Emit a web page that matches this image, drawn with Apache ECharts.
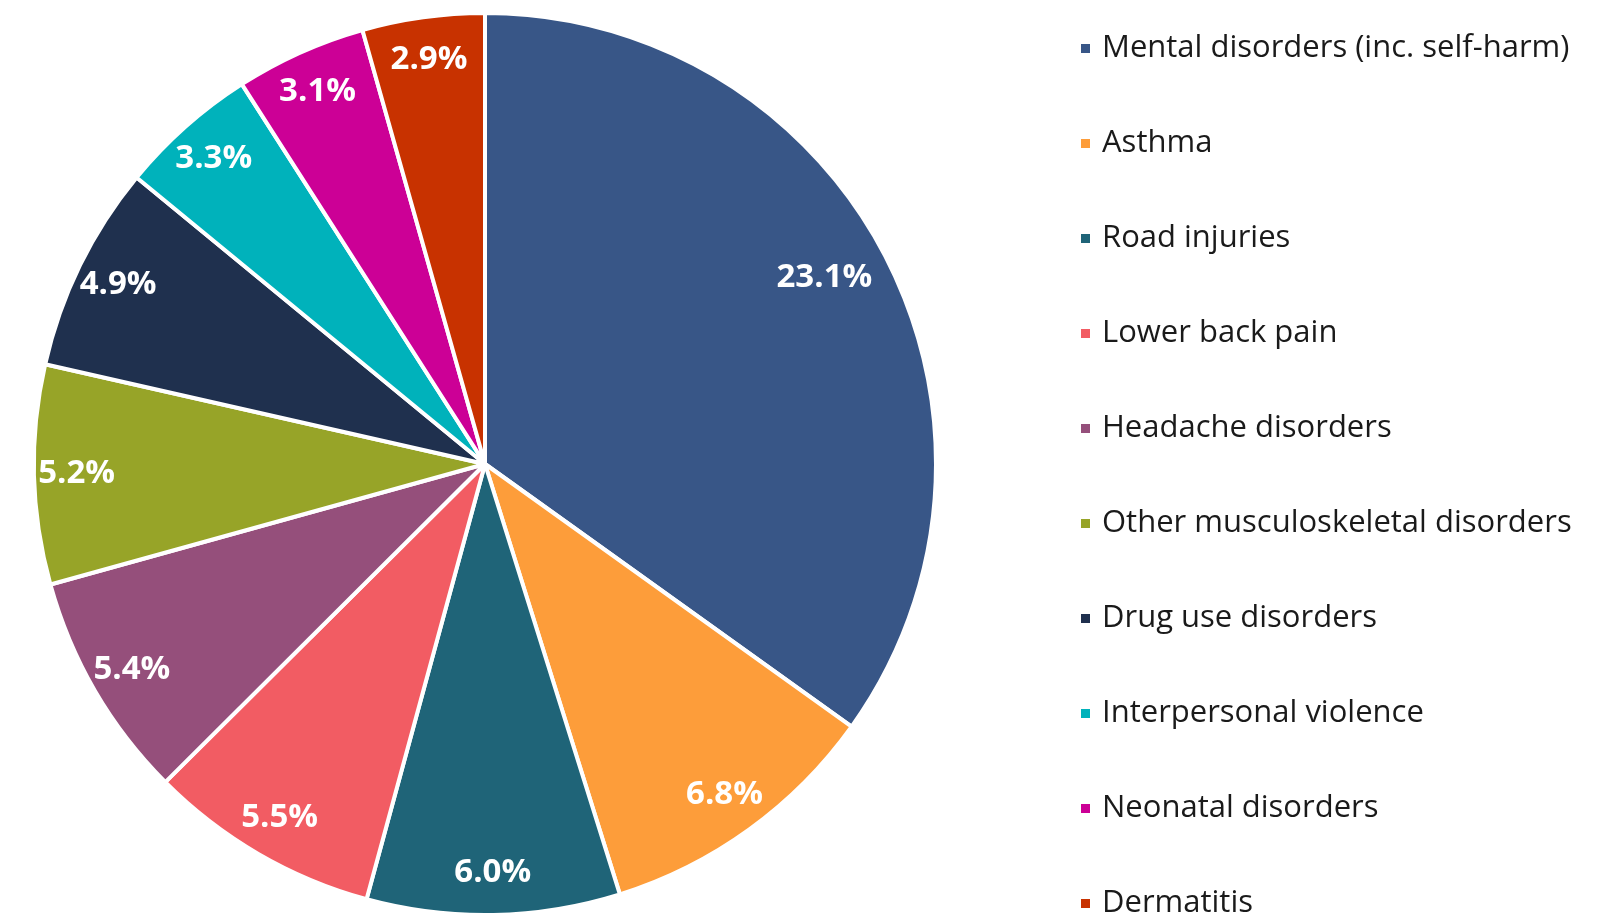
<!DOCTYPE html>
<html><head><meta charset="utf-8">
<script src="https://cdn.jsdelivr.net/npm/echarts@6/dist/echarts.min.js"></script>
<style>html,body{margin:0;padding:0;background:#fff}#c{width:1606px;height:917px}</style>
</head><body><div id="c"></div>
<script>
var categories = ['Mental disorders (inc. self-harm)','Asthma','Road injuries','Lower back pain','Headache disorders','Other musculoskeletal disorders','Drug use disorders','Interpersonal violence','Neonatal disorders','Dermatitis'];
var values = [23.1, 6.8, 6.0, 5.5, 5.4, 5.2, 4.9, 3.3, 3.1, 2.9];
var colors = ['#385687','#fd9d3a','#1f6478','#f25c63','#954f7b','#97a428','#1f304e','#00b2bb','#cc0096','#c83200'];

var mainData = categories.map(function(n,i){return {name:n, value:values[i], itemStyle:{color:colors[i]}};});
var labelData = categories.map(function(n,i){
  var d = {name:n, value:values[i]};
  if (i === 0) d.label = {padding:[32,48,0,0]}; // big slice label sits further inward
  return d;
});

var chart = echarts.init(document.getElementById('c'));
chart.setOption({
  animation:false,
  legend:{
    orient:'vertical', left:1074, top:28, height:1000,
    data:categories,
    icon:'rect', itemWidth:11, itemHeight:11, itemGap:64,
    textStyle:{fontFamily:'Open Sans', fontSize:31, color:'#1a1a1a', lineHeight:30, padding:[0,0,0,6]},
    selectedMode:false
  },
  series:[{
    type:'pie', name:'main', center:[485,464], radius:[0,451], startAngle:90, clockwise:true,
    data:mainData, label:{show:false}, labelLine:{show:false},
    itemStyle:{borderColor:'#fff', borderWidth:4}, silent:true
  },{
    type:'pie', name:'labels', center:[485,464], radius:[360,451], startAngle:90, clockwise:true,
    data:labelData, silent:true,
    itemStyle:{color:'rgba(0,0,0,0)'},
    label:{show:true, position:'inside', color:'#fff', fontFamily:'Open Sans', fontWeight:'bold', fontSize:33,
      formatter:function(p){return p.value.toFixed(1)+'%';}},
    labelLine:{show:false}, z:3
  }]
});
</script></body></html>
